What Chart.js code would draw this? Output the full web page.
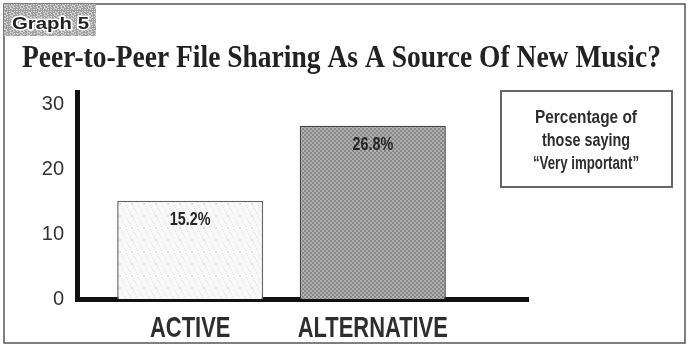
<!DOCTYPE html>
<html><head><meta charset="utf-8">
<script src="https://cdn.jsdelivr.net/npm/chart.js@4/dist/chart.umd.min.js"></script>
<style>html,body{margin:0;padding:0;background:#fff;}#wrap{width:699px;height:354px;position:relative;}</style>
</head><body><div id="wrap"><canvas id="c" width="699" height="354"></canvas></div>
<script>
const categories = ["ACTIVE", "ALTERNATIVE"];
const values = [15.2, 26.8];
const valueLabels = ["15.2%", "26.8%"];
const yTicks = [0, 10, 20, 30];
const badgeText = "Graph 5";
const titleText = "Peer-to-Peer File Sharing As A Source Of New Music?";
const noteLines = ["Percentage of", "those saying", "\u201cVery important\u201d"];

const SANS = '"Liberation Sans", Arial, sans-serif';
const canvas = document.getElementById('c');
const ctx = canvas.getContext('2d');

function makePattern(base, dot, size, fn) {
  const c = document.createElement('canvas');
  c.width = size; c.height = size;
  const g = c.getContext('2d');
  g.fillStyle = base; g.fillRect(0, 0, size, size);
  g.fillStyle = dot;
  for (let y = 0; y < size; y++) for (let x = 0; x < size; x++) if (fn(x, y)) g.fillRect(x, y, 1, 1);
  return ctx.createPattern(c, 'repeat');
}
const lightFill = makePattern('#f8f8f8', '#e2e2e2', 12, (x, y) => ((x * 7 + y * 13) % 11) === 0);
const darkFill = makePattern('#878787', '#b0b0b0', 4, (x, y) => (((x >> 1) + (y >> 1)) % 2) === 0);
const badgeFill = makePattern('#a0a0a0', '#cfcfcf', 17, (x, y) => ((x * 5 + y * 11 + x * y * 3) % 7) < 3);

function squeezed(c, text, x, y, width, align) {
  const w = c.measureText(text).width;
  const k = width / w;
  c.save();
  c.translate(x, y);
  c.scale(k, 1);
  c.textAlign = align || 'center';
  c.fillText(text, 0, 0);
  c.restore();
}

const decor = {
  id: 'decor',
  beforeDraw(chart) {
    const c = chart.ctx;
    c.save();
    c.fillStyle = '#fff';
    c.fillRect(0, 0, chart.width, chart.height);
    c.strokeStyle = '#555';
    c.lineWidth = 1.5;
    c.strokeRect(4, 4, 681, 339);
    c.fillStyle = badgeFill;
    c.fillRect(4, 4, 92, 32);
    c.font = 'bold 17px ' + SANS;
    const bw = c.measureText(badgeText).width;
    c.translate(12, 29);
    c.scale(77 / bw, 1);
    c.lineJoin = 'round';
    c.strokeStyle = '#fff';
    c.lineWidth = 3;
    c.strokeText(badgeText, 0, 0);
    c.fillStyle = '#222';
    c.fillText(badgeText, 0, 0);
    c.restore();
    c.save();
    c.font = 'bold 31px "Liberation Serif", serif';
    c.fillStyle = '#222';
    c.textBaseline = 'alphabetic';
    squeezed(c, titleText, 22, 67, 639, 'left');
    c.restore();
  },
  afterDraw(chart) {
    const c = chart.ctx;
    c.save();
    c.strokeStyle = '#666';
    c.lineWidth = 2;
    c.strokeRect(501, 91, 171, 96);
    c.fillStyle = '#2e2e2e';
    c.font = 'bold 18px ' + SANS;
    c.textBaseline = 'alphabetic';
    const ys = [123, 146, 169];
    const ws = [102, 88, 106];
    noteLines.forEach((t, i) => squeezed(c, t, 586, ys[i], ws[i], 'center'));
    c.font = 'bold 18px ' + SANS;
    c.fillStyle = '#262626';
    c.textBaseline = 'middle';
    const meta = chart.getDatasetMeta(0);
    meta.data.forEach((bar, i) => {
      const w = c.measureText(valueLabels[i]).width * 0.8;
      squeezed(c, valueLabels[i], bar.x, bar.y + 19, w, 'center');
    });
    const xs = chart.scales.x;
    c.font = 'bold 30px ' + SANS;
    c.fillStyle = '#2e2e2e';
    c.textBaseline = 'alphabetic';
    xs.ticks.forEach((t, i) => {
      const label = categories[t.value];
      const w = c.measureText(label).width * 0.73;
      squeezed(c, label, xs.getPixelForTick(i), 337, w, 'center');
    });
    c.restore();
  }
};

new Chart(ctx, {
  type: 'bar',
  data: {
    datasets: [{
      data: values.map((v, i) => ({ x: i, y: v })),
      backgroundColor: [lightFill, darkFill],
      borderColor: ['#666', '#444'],
      borderWidth: 1.5,
      barPercentage: 0.8,
      categoryPercentage: 1
    }]
  },
  options: {
    responsive: false,
    animation: false,
    events: [],
    layout: { padding: { top: 92, right: 171, bottom: 0, left: 0 } },
    plugins: { legend: { display: false }, tooltip: { enabled: false }, title: { display: false } },
    scales: {
      x: {
        type: 'linear', min: -0.62, max: 1.85, offset: false, bounds: 'data',
        grid: { display: false, drawTicks: false, offset: false },
        border: { display: true, color: '#111', width: 5 },
        afterBuildTicks: s => { s.ticks = categories.map((c, i) => ({ value: i })); },
        afterFit: s => { s.height = 55; },
        ticks: { display: false, callback: v => categories[v] }
      },
      y: {
        min: 0, max: 32,
        grid: { display: false, drawTicks: false },
        border: { display: true, color: '#111', width: 5 },
        afterBuildTicks: s => { s.ticks = yTicks.map(v => ({ value: v })); },
        afterFit: s => { s.width = 77; },
        ticks: { font: { family: SANS, size: 20 }, color: '#333', padding: 13 }
      }
    }
  },
  plugins: [decor]
});
</script></body></html>
